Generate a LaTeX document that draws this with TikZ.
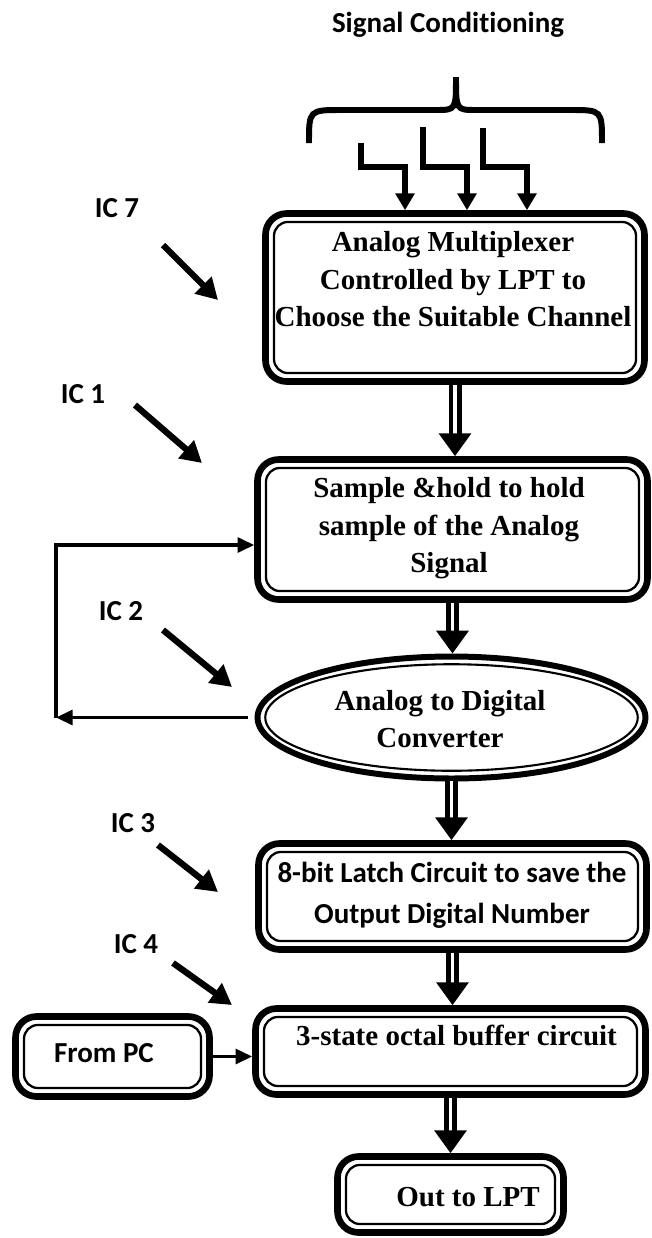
\documentclass[tikz,border=0pt]{standalone}
\usepackage{fontspec}
\setmainfont{Liberation Serif}
\newfontfamily\calibri{Carlito}[Ligatures=NoCommon]
\usetikzlibrary{arrows.meta,shapes.geometric}

\tikzset{
  blk/.style={draw, line width=3.8pt, rounded corners=12pt, inner sep=0pt},
  blkin/.style={line width=1.3pt, rounded corners=8pt},
  txt/.style={font=\fontsize{16.5}{21.3}\selectfont\bfseries, align=center, inner sep=0pt},
  ctxt/.style={font=\calibri\fontsize{16.5}{23.2}\selectfont\bfseries, align=center, inner sep=0pt},
  dbl/.style={double, double distance=2.2pt, line width=2.6pt, -{Triangle[width=18pt,length=13pt]}},
  icarrow/.style={line width=3.6pt, -{Triangle[width=13pt,length=12pt]}},
  feed/.style={line width=3.4pt, -{Triangle[width=10.5pt,length=9.5pt]}},
  fb/.style={line width=1.9pt, -{Triangle[width=8.5pt,length=9.5pt]}}
}

\begin{document}
\begin{tikzpicture}[x=0.02cm, y=-0.02cm]
\useasboundingbox (0,0) rectangle (652,1238);

% title and brace over the inputs
\node[ctxt, anchor=base] (title) at (448,32) {Signal Conditioning};
\draw[line width=3.4pt] (309,143) .. controls (309,110) .. (342,110) -- (436,110)
  .. controls (456,110) .. (456,77) .. controls (456,110) .. (476,110) -- (570,110)
  .. controls (602,110) .. (602,143);

% blocks
\node[blk, minimum width=7.58cm, minimum height=3.36cm] (mux) at (455,297.5) {};
\node[blk, minimum width=7.8cm, minimum height=2.8cm] (sh) at (452.5,529.5) {};
\node[draw, ellipse, line width=3.4pt, minimum width=7.76cm, minimum height=2.44cm, inner sep=0pt] (adc) at (451.5,717.5) {};
\node[blk, minimum width=7.76cm, minimum height=2.12cm] (latch) at (452.5,896.5) {};
\node[blk, minimum width=7.8cm, minimum height=1.72cm] (buf) at (450.5,1051.5) {};
\node[blk, minimum width=4.52cm, minimum height=1.52cm] (out) at (450.5,1194.5) {};
\node[blk, minimum width=3.88cm, minimum height=1.6cm] (pc) at (112.5,1056.5) {};

% thin inner border (anchors sit on the outer edge of the thick line)
\foreach \n in {mux,sh,latch,buf,out,pc}
  \draw[blkin] ([shift={(6.7pt,6.7pt)}]\n.south west) rectangle ([shift={(-6.7pt,-6.7pt)}]\n.north east);
\draw[line width=1.2pt] (adc.center) ellipse (3.88cm-4.4pt and 1.22cm-4.4pt);

% block texts
\node[txt] (muxt) at (453,279.5) {Analog Multiplexer\\Controlled by LPT to\\Choose the Suitable Channel};
\node[txt] (sht) at (449,528.5) {Sample \&hold to hold\\sample of the Analog\\Signal};
\node[txt] (adct) at (440,719) {Analog to Digital\\Converter};
\node[ctxt] (latcht) at (452,895.5) {8-bit Latch Circuit to save the\\Output Digital Number};
\node[txt] (buft) at (456.5,1035) {3-state octal buffer circuit};
\node[txt] (outt) at (468,1197) {Out to LPT};
\node[ctxt] (pct) at (104,1053) {From PC};

% IC labels and their arrows
\foreach \t/\x/\y in {7/117/217, 1/83/403, 2/121/620, 3/133/832, 4/136/953}
  \node[ctxt, anchor=base] (ic\t) at (\x,\y) {IC \t};
\foreach \a/\b/\c/\d in {163/245/218/300, 135/405/202/463, 163/630/232/687, 158/845/218/892, 173/963/232/1005}
  \draw[icarrow] (\a,\b) -- (\c,\d);

% conditioned inputs into the multiplexer
\foreach \x/\y/\dx in {361/143/-1.0, 423/127/0.24, 483/128/1.44}
  \draw[feed] (\x,\y) -- (\x,167) -| ([xshift=\dx cm]mux.north);

% main signal path
\foreach \a/\b in {mux/sh, sh/adc, adc/latch, latch/buf, buf/out}
  \draw[dbl] (\a.south) -- (\a.south |- \b.north);

% feedback from the converter to sample & hold
\coordinate (fbl) at (56,715);
\coordinate (fbt) at (56,545);
\draw[fb, shorten <=4pt] (adc.west) -- (adc.west -| fbl);
\draw[fb] (adc.west -| fbl) -- (fbt) -- (fbt -| sh.west);

\draw[fb] (pc.east) -- (pc.east -| buf.west);
\end{tikzpicture}
\end{document}
